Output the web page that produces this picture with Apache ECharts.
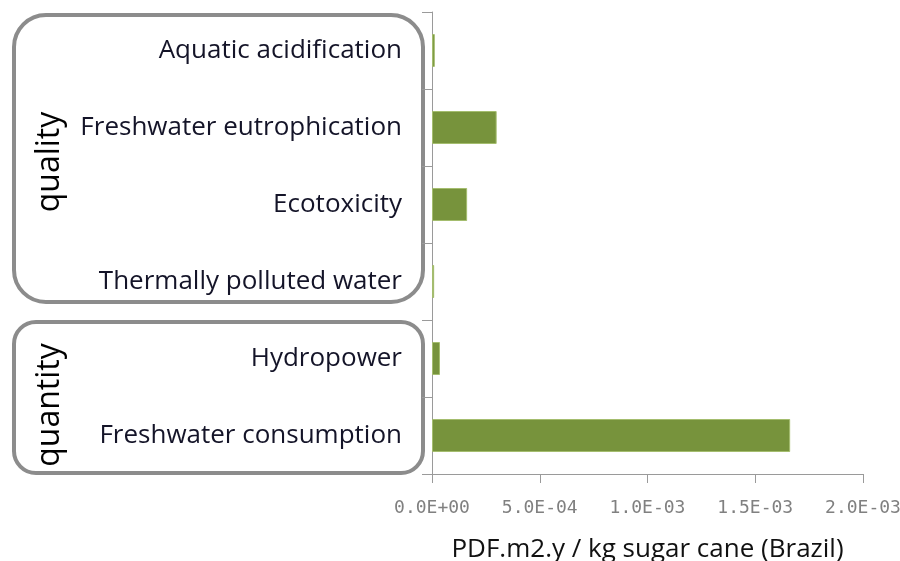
<!DOCTYPE html>
<html>
<head>
<meta charset="utf-8">
<script src="https://cdn.jsdelivr.net/npm/echarts@6/dist/echarts.min.js"></script>
<style>
  html, body { margin: 0; padding: 0; background: #fff; }
  #chart { width: 900px; height: 561px; }
</style>
</head>
<body>
<div id="chart"></div>
<script>
const categories = [
  'Aquatic acidification',
  'Freshwater eutrophication',
  'Ecotoxicity',
  'Thermally polluted water',
  'Hydropower',
  'Freshwater consumption'
]
const values = [1.3e-5, 3.0e-4, 1.63e-4, 1.0e-5, 3.7e-5, 1.662e-3]
const xTicks = [0, 5e-4, 1e-3, 1.5e-3, 2e-3]
const groupLabels = ['quality', 'quantity']

const fmt = v => {
  // Excel style 0.0E+00
  if (v === 0) return '0.0E+00'
  const e = Math.floor(Math.log10(Math.abs(v)) + 1e-9)
  const m = v / Math.pow(10, e)
  const sign = e < 0 ? '-' : '+'
  return m.toFixed(1) + 'E' + sign + String(Math.abs(e)).padStart(2, '0')
}

const chart = echarts.init(document.getElementById('chart'))

const options = {
  animation: false,
  grid: { left: 432, right: 37, top: 12, bottom: 87, outerBoundsMode: 'none' },
  xAxis: {
    type: 'value',
    min: xTicks[0],
    max: xTicks[xTicks.length - 1],
    interval: xTicks[1] - xTicks[0],
    splitLine: { show: false },
    axisLine: { show: true, lineStyle: { color: '#9a9a9a', width: 1 } },
    axisTick: { show: true, length: 9, lineStyle: { color: '#9a9a9a' } },
    axisLabel: {
      color: '#808080',
      fontFamily: 'DejaVu Sans Mono',
      fontSize: 18,
      margin: 25,
      formatter: fmt
    },
    name: 'PDF.m2.y / kg sugar cane (Brazil)',
    nameLocation: 'middle',
    nameGap: 63,
    nameTextStyle: { color: '#111', fontFamily: 'Open Sans', fontSize: 26 }
  },
  yAxis: {
    type: 'category',
    inverse: true,
    data: categories,
    axisLine: { show: true, lineStyle: { color: '#9a9a9a', width: 1 } },
    axisTick: { show: true, length: 10, lineStyle: { color: '#9a9a9a' } },
    axisLabel: {
      color: '#141428',
      fontFamily: 'Open Sans',
      fontSize: 26,
      margin: 30,
      padding: [6, 0, 0, 0]
    }
  },
  series: [
    {
      type: 'bar',
      data: values,
      barWidth: 33,
      itemStyle: { color: '#77933c', borderColor: '#a4bd6e', borderWidth: 1 }
    }
  ],
  graphic: [
    {
      type: 'rect',
      shape: { x: 14, y: 15, width: 409, height: 287, r: 32 },
      style: { fill: 'none', stroke: '#8c8c8c', lineWidth: 4 },
      z: -1
    },
    {
      type: 'rect',
      shape: { x: 14, y: 322, width: 409, height: 151, r: 22 },
      style: { fill: 'none', stroke: '#8c8c8c', lineWidth: 4 },
      z: -1
    },
    {
      type: 'text',
      x: 50,
      y: 162,
      rotation: Math.PI / 2,
      style: {
        text: groupLabels[0],
        fill: '#000',
        font: '32px "Open Sans"',
        align: 'center',
        verticalAlign: 'middle'
      }
    },
    {
      type: 'text',
      x: 50,
      y: 405,
      rotation: Math.PI / 2,
      style: {
        text: groupLabels[1],
        fill: '#000',
        font: '32px "Open Sans"',
        align: 'center',
        verticalAlign: 'middle'
      }
    }
  ]
}

chart.setOption(options)
window.addEventListener('resize', function () {
  chart && chart.resize()
})
</script>
</body>
</html>
